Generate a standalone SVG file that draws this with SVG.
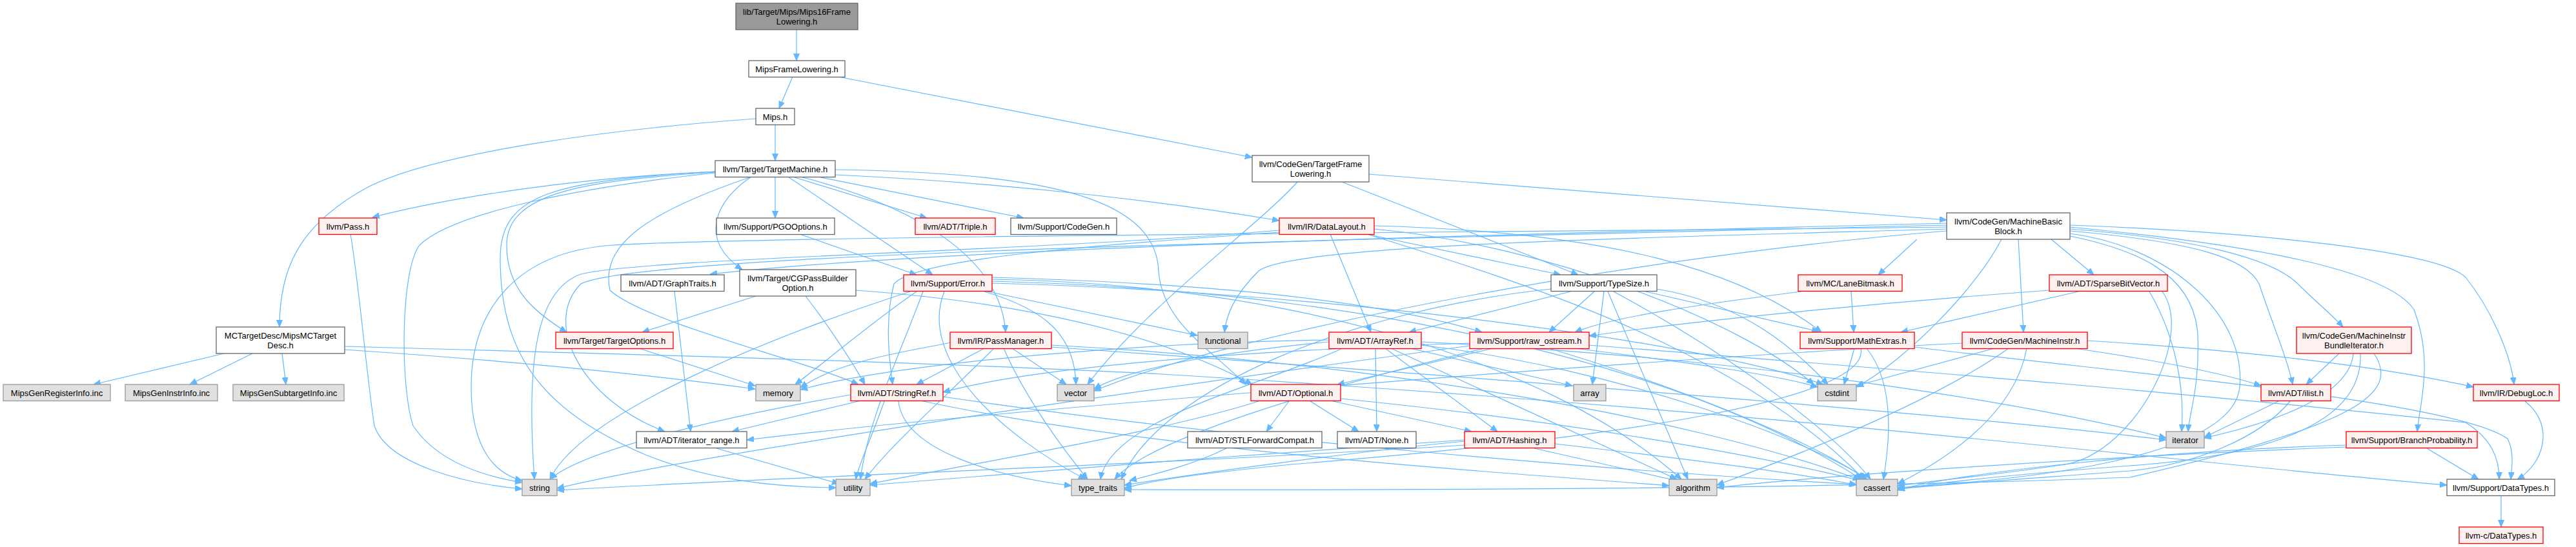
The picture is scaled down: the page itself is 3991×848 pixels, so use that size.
<svg xmlns="http://www.w3.org/2000/svg" width="3991" height="848" viewBox="0 0 3991 848">
<style>
text{font-family:"Liberation Sans",Arial,Helvetica,sans-serif;font-size:13px;text-anchor:middle;fill:#000}
.w rect{fill:#fff;stroke:#666;stroke-width:1.3}
.r rect{fill:#fff0f0;stroke:#f00;stroke-width:1.3}
.g rect{fill:#e0e0e0;stroke:#999;stroke-width:1.3}
.root rect{fill:#999;stroke:#666;stroke-width:1.3}
#edges path{fill:none;stroke:#63b8ff;stroke-width:1.2;marker-end:url(#a)}
</style>
<defs>
<marker id="a" markerUnits="userSpaceOnUse" markerWidth="12" markerHeight="10" refX="11" refY="4.5" orient="auto"><path d="M0,0 L11,4.5 L0,9 z" fill="#63b8ff" stroke="#63b8ff" stroke-width="1"/></marker>
</defs>
<rect width="3991" height="848" fill="#fff"/>
<g id="edges">
<path d="M1234,46 L1234,94"/>
<path d="M1228,119 L1207,168"/>
<path d="M1299,119 L1940,244"/>
<path d="M1201,193 L1201,249"/>
<path d="M1171,184 C950,200 680,235 570,290 C460,350 433,420 433,507"/>
<path d="M2121,270 L3016,341"/>
<path d="M1108,266 C900,275 700,305 577,337"/>
<path d="M1201,274 L1201,338"/>
<path d="M1228,274 L1436,338"/>
<path d="M1267,274 L1586,338"/>
<path d="M1294,271 C1600,285 1850,320 1982,342"/>
<path d="M1221,274 L1445,426"/>
<path d="M1240,274 C1420,320 1550,400 1558,515"/>
<path d="M1294,263 C1600,268 1790,300 1795,420 C1800,500 1880,545 1930,596"/>
<path d="M1164,274 C1110,310 1080,370 1150,418"/>
<path d="M1108,267 C900,280 785,300 785,380 C785,450 830,485 878,515"/>
<path d="M1108,266 C860,280 775,300 775,400 C775,560 850,640 1000,705 C1100,745 1200,755 1295,756"/>
<path d="M1108,268 C900,290 700,330 650,380 C620,420 620,600 640,660 C680,720 760,740 809,748"/>
<path d="M543,363 C555,430 570,600 580,660 C600,720 720,750 809,758"/>
<path d="M1239,363 L1420,426"/>
<path d="M3016,346 C2500,360 1500,380 1100,425"/>
<path d="M3016,352 C2400,360 1200,365 950,380 C800,390 730,480 730,600 C730,700 770,735 809,745"/>
<path d="M1982,357 C1600,390 1000,400 900,425 C830,450 815,560 828,743"/>
<path d="M2079,282 L2445,426"/>
<path d="M2010,282 C1950,350 1780,470 1685,596"/>
<path d="M2117,363 L2418,426"/>
<path d="M2061,363 L2124,515"/>
<path d="M2129,350 C2500,360 2700,420 2822,515"/>
<path d="M2129,355 C2400,380 2700,500 2810,596"/>
<path d="M2118,363 C2400,450 2700,550 2888,743"/>
<path d="M1982,360 C1700,380 1420,400 1385,440 C1370,500 1378,560 1383,596"/>
<path d="M1537,430 C1900,440 2150,470 2296,515"/>
<path d="M1537,433 C2000,440 2400,560 2605,743"/>
<path d="M1537,436 C2100,450 2600,560 2884,743"/>
<path d="M1537,439 C2000,450 2600,520 2825,596"/>
<path d="M1530,452 L1855,520"/>
<path d="M1525,452 C1620,480 1665,520 1667,596"/>
<path d="M1463,452 C1420,560 1560,680 1682,743"/>
<path d="M1420,452 C1350,500 1280,560 1232,596"/>
<path d="M1410,452 C1200,520 900,640 852,743"/>
<path d="M1430,452 C1390,560 1345,650 1333,743"/>
<path d="M1164,274 C1000,330 930,380 945,450 C1000,500 1250,560 1330,596"/>
<path d="M1045,452 L1070,669"/>
<path d="M1330,622 L1134,669"/>
<path d="M3040,532 C2500,560 1500,640 1157,682"/>
<path d="M3016,349 C2200,370 1000,390 900,440 C840,500 900,620 1030,669"/>
<path d="M3016,355 C2500,370 2000,380 1950,420 C1910,460 1900,490 1897,515"/>
<path d="M3016,358 C2500,400 1900,520 1695,606"/>
<path d="M2970,371 L2910,426"/>
<path d="M3127,371 L3135,515"/>
<path d="M3178,371 L3244,426"/>
<path d="M3101,371 C3060,450 2950,560 2876,600"/>
<path d="M3207,362 C3350,380 3480,480 3470,600 C3460,700 3200,740 2940,756"/>
<path d="M3207,366 C3300,385 3400,420 3405,520 C3408,600 3392,640 3390,669"/>
<path d="M3207,358 C3400,375 3480,400 3500,440 C3520,500 3545,560 3552,596"/>
<path d="M3207,355 C3400,370 3520,400 3560,440 C3590,470 3615,490 3630,507"/>
<path d="M3207,352 C3500,380 3700,420 3740,480 C3770,560 3750,620 3745,669"/>
<path d="M3207,349 C3500,360 3780,390 3820,430 C3860,480 3890,550 3895,596"/>
<path d="M2462,535 C2900,570 3300,600 3820,655 C3860,680 3872,710 3872,743"/>
<path d="M2966,538 C3300,580 3800,620 3885,680 C3895,700 3892,720 3890,743"/>
<path d="M534,542 C800,560 1000,580 1170,603"/>
<path d="M534,537 C1000,550 1400,560 1800,580 C2800,640 3400,720 3791,752"/>
<path d="M347,548 L145,596"/>
<path d="M391,548 L294,596"/>
<path d="M437,548 L443,596"/>
<path d="M1171,459 L995,515"/>
<path d="M1326,450 C1600,470 1800,520 1940,596"/>
<path d="M1248,459 C1280,500 1320,560 1340,596"/>
<path d="M990,540 L1170,598"/>
<path d="M1480,530 C1400,545 1300,560 1240,601"/>
<path d="M1525,540 L1420,596"/>
<path d="M1568,540 L1652,596"/>
<path d="M1555,540 C1590,620 1650,700 1685,743"/>
<path d="M1540,540 C1460,620 1380,690 1340,743"/>
<path d="M1629,535 C2100,560 2600,640 2882,744"/>
<path d="M1629,538 C2500,600 3100,650 3356,682"/>
<path d="M1997,622 L1962,669"/>
<path d="M2030,622 L2105,669"/>
<path d="M2065,622 L2280,669"/>
<path d="M2077,618 C2400,650 2700,700 2886,746"/>
<path d="M1950,622 C1800,670 1500,720 1348,750"/>
<path d="M2080,540 C1950,600 1720,650 1705,743"/>
<path d="M1370,622 C1350,680 1330,720 1326,743"/>
<path d="M1392,622 C1400,700 1550,740 1660,753"/>
<path d="M1430,622 C1800,700 2300,730 2586,753"/>
<path d="M1461,615 C1900,680 2500,730 2877,751"/>
<path d="M1318,612 C1100,650 900,700 852,743"/>
<path d="M2131,540 L2133,669"/>
<path d="M2146,540 L2320,669"/>
<path d="M2155,540 L2598,743"/>
<path d="M2185,540 L2436,598"/>
<path d="M2202,535 C2500,570 2800,680 2893,743"/>
<path d="M2202,530 C2800,560 3200,640 3356,679"/>
<path d="M2059,530 C1900,545 1750,570 1695,603"/>
<path d="M2059,527 C1800,530 1400,560 1240,604"/>
<path d="M2313,540 L2072,596"/>
<path d="M2277,532 C1900,545 1600,570 1461,608"/>
<path d="M2440,540 C2600,560 2750,580 2816,600"/>
<path d="M2400,540 C2600,600 2800,680 2892,743"/>
<path d="M2277,536 C1800,600 1100,700 863,757"/>
<path d="M2300,540 C2050,600 1780,680 1727,743"/>
<path d="M2433,452 L2183,515"/>
<path d="M2470,452 L2400,515"/>
<path d="M2485,452 L2467,596"/>
<path d="M2491,452 L2615,743"/>
<path d="M2500,452 C2700,560 2850,680 2898,743"/>
<path d="M2550,452 L2818,514"/>
<path d="M2567,448 C2700,470 2780,540 2832,596"/>
<path d="M2403,448 C2100,480 1800,600 1737,743"/>
<path d="M2873,540 L2857,596"/>
<path d="M2892,540 C2940,600 2925,700 2918,743"/>
<path d="M2883,540 C2900,620 2500,680 2000,720 C1850,735 1770,748 1742,757"/>
<path d="M2868,452 L2872,515"/>
<path d="M2790,452 C2650,470 2500,490 2440,515"/>
<path d="M3175,450 C2900,470 2600,500 2462,521"/>
<path d="M3220,452 L2945,515"/>
<path d="M3330,452 C3370,520 3385,600 3380,669"/>
<path d="M3350,452 C3400,520 3310,700 3200,720 C3100,735 3000,745 2940,753"/>
<path d="M3234,528 C3500,545 3700,570 3832,600"/>
<path d="M3214,540 C3350,560 3450,580 3503,598"/>
<path d="M3090,540 L2876,598"/>
<path d="M3112,540 C3000,620 2800,700 2660,752"/>
<path d="M3140,540 C3120,650 3000,720 2940,750"/>
<path d="M3624,548 L3573,596"/>
<path d="M3646,548 C3640,620 3500,660 3415,679"/>
<path d="M3657,548 C3660,620 3600,700 3300,722 C3100,737 3000,748 2940,759"/>
<path d="M3678,548 C3720,610 3650,660 3300,740 C2800,760 2000,760 1742,759"/>
<path d="M3530,622 L3415,678"/>
<path d="M3548,622 C3500,680 3400,720 3300,730 C3100,745 3000,752 2940,758"/>
<path d="M3912,622 C3960,660 3940,720 3900,743"/>
<path d="M3760,695 L3840,743"/>
<path d="M3635,690 C3300,700 3000,740 2940,760"/>
<path d="M3635,693 C3200,710 2800,740 2660,756"/>
<path d="M3875,769 L3875,817"/>
<path d="M2377,695 L2597,745"/>
<path d="M2409,688 C2600,710 2800,735 2876,752"/>
<path d="M2269,684 C2100,700 1850,735 1742,752"/>
<path d="M2269,682 C2000,700 1600,730 1348,752"/>
<path d="M2269,690 C1800,720 1200,740 863,760"/>
<path d="M1900,695 C1850,720 1790,735 1750,745"/>
<path d="M1110,695 L1300,750"/>
</g>
<g id="n_mips16" class="root"><rect x="1140" y="5" width="189" height="41"/><text x="1234.5" y="23">lib/Target/Mips/Mips16Frame</text><text x="1234.5" y="38">Lowering.h</text></g>
<g id="n_mipsframe" class="w"><rect x="1160" y="94" width="149" height="25.5"/><text x="1234.5" y="111.5">MipsFrameLowering.h</text></g>
<g id="n_mips" class="w"><rect x="1171" y="168" width="60" height="25.5"/><text x="1201" y="185.5">Mips.h</text></g>
<g id="n_tfl" class="w"><rect x="1940" y="241" width="181" height="41"/><text x="2030.5" y="259">llvm/CodeGen/TargetFrame</text><text x="2030.5" y="274">Lowering.h</text></g>
<g id="n_tm" class="w"><rect x="1108" y="249" width="186" height="25.5"/><text x="1201" y="266.5">llvm/Target/TargetMachine.h</text></g>
<g id="n_mbb" class="w"><rect x="3016" y="330" width="191" height="41"/><text x="3111.5" y="348">llvm/CodeGen/MachineBasic</text><text x="3111.5" y="363">Block.h</text></g>
<g id="n_pass" class="r"><rect x="494" y="338" width="90" height="25.5"/><text x="539" y="355.5">llvm/Pass.h</text></g>
<g id="n_pgo" class="w"><rect x="1110" y="338" width="183" height="25.5"/><text x="1201.5" y="355.5">llvm/Support/PGOOptions.h</text></g>
<g id="n_triple" class="r"><rect x="1418" y="338" width="124" height="25.5"/><text x="1480" y="355.5">llvm/ADT/Triple.h</text></g>
<g id="n_codegen" class="w"><rect x="1566" y="338" width="164" height="25.5"/><text x="1648" y="355.5">llvm/Support/CodeGen.h</text></g>
<g id="n_datalayout" class="r"><rect x="1982" y="338" width="147" height="25.5"/><text x="2055.5" y="355.5">llvm/IR/DataLayout.h</text></g>
<g id="n_graphtraits" class="w"><rect x="962" y="426" width="160" height="25.5"/><text x="1042" y="443.5">llvm/ADT/GraphTraits.h</text></g>
<g id="n_cgpbo" class="w"><rect x="1146" y="418" width="180" height="41"/><text x="1236" y="436">llvm/Target/CGPassBuilder</text><text x="1236" y="451">Option.h</text></g>
<g id="n_error" class="r"><rect x="1400" y="426" width="137" height="25.5"/><text x="1468.5" y="443.5">llvm/Support/Error.h</text></g>
<g id="n_typesize" class="w"><rect x="2403" y="426" width="164" height="25.5"/><text x="2485" y="443.5">llvm/Support/TypeSize.h</text></g>
<g id="n_lanebitmask" class="r"><rect x="2786" y="426" width="161" height="25.5"/><text x="2866.5" y="443.5">llvm/MC/LaneBitmask.h</text></g>
<g id="n_sparsebv" class="r"><rect x="3175" y="426" width="183" height="25.5"/><text x="3266.5" y="443.5">llvm/ADT/SparseBitVector.h</text></g>
<g id="n_mctd" class="w"><rect x="335" y="507" width="199" height="41"/><text x="434.5" y="525">MCTargetDesc/MipsMCTarget</text><text x="434.5" y="540">Desc.h</text></g>
<g id="n_targetoptions" class="r"><rect x="861" y="515" width="182" height="25.5"/><text x="952" y="532.5">llvm/Target/TargetOptions.h</text></g>
<g id="n_passmanager" class="r"><rect x="1472" y="515" width="157" height="25.5"/><text x="1550.5" y="532.5">llvm/IR/PassManager.h</text></g>
<g id="n_functional" class="g"><rect x="1856" y="515" width="77" height="25.5"/><text x="1894.5" y="532.5">functional</text></g>
<g id="n_arrayref" class="r"><rect x="2059" y="515" width="143" height="25.5"/><text x="2130.5" y="532.5">llvm/ADT/ArrayRef.h</text></g>
<g id="n_rawostream" class="r"><rect x="2277" y="515" width="185" height="25.5"/><text x="2369.5" y="532.5">llvm/Support/raw_ostream.h</text></g>
<g id="n_mathextras" class="r"><rect x="2789" y="515" width="177" height="25.5"/><text x="2877.5" y="532.5">llvm/Support/MathExtras.h</text></g>
<g id="n_machineinstr" class="r"><rect x="3040" y="515" width="194" height="25.5"/><text x="3137" y="532.5">llvm/CodeGen/MachineInstr.h</text></g>
<g id="n_mibi" class="r"><rect x="3558" y="507" width="178" height="41"/><text x="3647" y="525">llvm/CodeGen/MachineInstr</text><text x="3647" y="540">BundleIterator.h</text></g>
<g id="n_genreg" class="g"><rect x="5" y="596" width="166" height="25.5"/><text x="88" y="613.5">MipsGenRegisterInfo.inc</text></g>
<g id="n_geninstr" class="g"><rect x="194" y="596" width="143" height="25.5"/><text x="265.5" y="613.5">MipsGenInstrInfo.inc</text></g>
<g id="n_gensub" class="g"><rect x="361" y="596" width="172" height="25.5"/><text x="447" y="613.5">MipsGenSubtargetInfo.inc</text></g>
<g id="n_memory" class="g"><rect x="1171" y="596" width="69" height="25.5"/><text x="1205.5" y="613.5">memory</text></g>
<g id="n_stringref" class="r"><rect x="1318" y="596" width="143" height="25.5"/><text x="1389.5" y="613.5">llvm/ADT/StringRef.h</text></g>
<g id="n_vector" class="g"><rect x="1638" y="596" width="57" height="25.5"/><text x="1666.5" y="613.5">vector</text></g>
<g id="n_optional" class="r"><rect x="1938" y="596" width="139" height="25.5"/><text x="2007.5" y="613.5">llvm/ADT/Optional.h</text></g>
<g id="n_array" class="g"><rect x="2438" y="596" width="50" height="25.5"/><text x="2463" y="613.5">array</text></g>
<g id="n_cstdint" class="g"><rect x="2816" y="596" width="60" height="25.5"/><text x="2846" y="613.5">cstdint</text></g>
<g id="n_ilist" class="r"><rect x="3503" y="596" width="108" height="25.5"/><text x="3557" y="613.5">llvm/ADT/ilist.h</text></g>
<g id="n_debugloc" class="r"><rect x="3832" y="596" width="133" height="25.5"/><text x="3898.5" y="613.5">llvm/IR/DebugLoc.h</text></g>
<g id="n_iterrange" class="w"><rect x="986" y="669" width="171" height="25.5"/><text x="1071.5" y="686.5">llvm/ADT/iterator_range.h</text></g>
<g id="n_stlfc" class="w"><rect x="1840" y="669" width="208" height="25.5"/><text x="1944" y="686.5">llvm/ADT/STLForwardCompat.h</text></g>
<g id="n_none" class="w"><rect x="2072" y="669" width="122" height="25.5"/><text x="2133" y="686.5">llvm/ADT/None.h</text></g>
<g id="n_hashing" class="r"><rect x="2269" y="669" width="140" height="25.5"/><text x="2339" y="686.5">llvm/ADT/Hashing.h</text></g>
<g id="n_iterator" class="g"><rect x="3356" y="669" width="59" height="25.5"/><text x="3385.5" y="686.5">iterator</text></g>
<g id="n_branchprob" class="r"><rect x="3635" y="669" width="203" height="25.5"/><text x="3736.5" y="686.5">llvm/Support/BranchProbability.h</text></g>
<g id="n_string" class="g"><rect x="809" y="743" width="54" height="25.5"/><text x="836" y="760.5">string</text></g>
<g id="n_utility" class="g"><rect x="1295" y="743" width="53" height="25.5"/><text x="1321.5" y="760.5">utility</text></g>
<g id="n_typetraits" class="g"><rect x="1660" y="743" width="82" height="25.5"/><text x="1701" y="760.5">type_traits</text></g>
<g id="n_algorithm" class="g"><rect x="2586" y="743" width="74" height="25.5"/><text x="2623" y="760.5">algorithm</text></g>
<g id="n_cassert" class="g"><rect x="2876" y="743" width="64" height="25.5"/><text x="2908" y="760.5">cassert</text></g>
<g id="n_datatypes" class="w"><rect x="3791" y="743" width="167" height="25.5"/><text x="3874.5" y="760.5">llvm/Support/DataTypes.h</text></g>
<g id="n_cdatatypes" class="r"><rect x="3810" y="817" width="130" height="25.5"/><text x="3875" y="834.5">llvm-c/DataTypes.h</text></g>
</svg>
